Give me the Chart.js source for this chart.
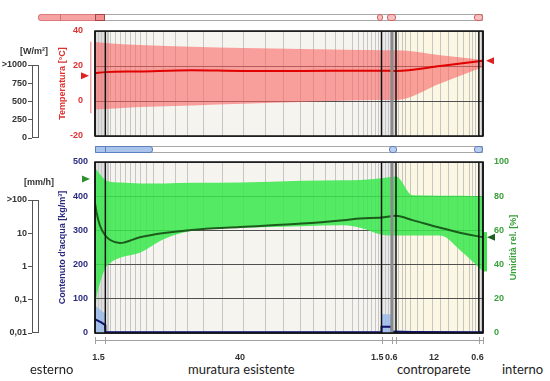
<!DOCTYPE html>
<html>
<head>
<meta charset="utf-8">
<script src="https://cdn.jsdelivr.net/npm/chart.js@4.4.0/dist/chart.umd.min.js"></script>
<style>
body{margin:0;background:#fff;}
#wrap{position:relative;width:550px;height:381px;overflow:hidden;font-family:"Liberation Sans",Arial,sans-serif;}
canvas{position:absolute;}
.bar{position:absolute;height:5px;border:1px solid #a8a8a8;background:#fff;box-sizing:content-box;}
.lbl{position:absolute;font-family:Lato,sans-serif;font-size:13px;color:#222;white-space:nowrap;}
.unit{position:absolute;font-size:9px;font-weight:bold;color:#333;white-space:nowrap;}
</style>
</head>
<body>
<div id="wrap">
  <!-- top (temperature) progress bar -->
  <div class="bar" style="left:38px;top:14px;width:443px;border-radius:3px 0 0 3px;"></div>
  <div class="bar" style="left:38px;top:14px;width:65px;background:#f6a3a3;border-color:#df7a7a;border-radius:3px 0 0 3px;"></div>
  <div class="bar" style="left:60px;top:14px;width:0;border-color:#d07070;border-width:1px 0 1px 1px;"></div>
  <div class="bar" style="left:95px;top:14px;width:8px;background:#f09090;border-color:#a84444;"></div>
  <div class="bar" style="left:377px;top:14px;width:4px;background:#f8c0c0;border-color:#d06060;border-radius:3px;"></div>
  <div class="bar" style="left:387px;top:14px;width:7px;background:#f8c0c0;border-color:#d06060;border-radius:3px;"></div>
  <div class="bar" style="left:474px;top:14px;width:7px;background:#f8c0c0;border-color:#d06060;border-radius:3px;"></div>
  <!-- bottom (moisture) progress bar -->
  <div class="bar" style="left:95px;top:146px;width:386px;"></div>
  <div class="bar" style="left:95px;top:146px;width:56px;background:#a9c3ea;border-color:#5c7fc0;border-radius:0 3px 3px 0;"></div>
  <div class="bar" style="left:105px;top:146px;width:0;border-color:#5c7fc0;border-width:1px 0 1px 1px;"></div>
  <div class="bar" style="left:389px;top:146px;width:6px;background:#b8cdf0;border-color:#5c7fc0;border-radius:3px;"></div>
  <div class="bar" style="left:474px;top:146px;width:7px;background:#b8cdf0;border-color:#5c7fc0;border-radius:3px;"></div>

  <canvas id="cTemp" width="550" height="116" style="left:0;top:25px;"></canvas>
  <canvas id="cMoist" width="550" height="205" style="left:0;top:155px;"></canvas>
  <canvas id="cRad" width="45" height="95" style="left:0;top:55px;"></canvas>
  <canvas id="cRain" width="45" height="155" style="left:0;top:190px;"></canvas>

  <div class="unit" style="left:20px;top:46px;">[W/m²]</div>
  <div class="unit" style="left:24px;top:177px;">[mm/h]</div>

  <div class="lbl" style="left:30px;top:361px;">esterno</div>
  <div class="lbl" style="left:188px;top:361px;">muratura esistente</div>
  <div class="lbl" style="left:397px;top:361px;">controparete</div>
  <div class="lbl" style="left:502px;top:361px;">interno</div>
</div>
<script>
// layer build-up (cm from outside)
const layerEdges = [0, 1.5, 41.5, 43, 43.6, 55.6, 56.2];
const thicknessLabels = ['1.5', '40', '1.5', '0.6', '12', '0.6'];
const labelPos = [0.5, 21.0, 40.9, 42.9, 49.1, 55.4];
const gridCm = [0.4, 0.9, 1.67, 1.88, 2.17, 2.9, 3.62, 4.35, 5.07, 5.8, 6.52, 7.39, 8.41, 9.86, 11.6,
  13.3, 15.65, 18.4, 21.45, 24.6, 27.2, 29.7, 31.6, 33.3, 34.8, 35.9, 37.2, 38.1, 38.8, 39.4, 40.0,
  40.6, 41.0, 42.0, 42.4, 43.9, 44.5, 44.9, 45.65, 46.7, 47.5, 48.8, 50.0, 51.2, 52.5, 53.3, 54.1,
  54.6, 55.1, 55.9];

// temperature [°C]
const tempX    = [0, 1.5, 6.5, 14, 21.5, 30, 38.5, 41.5, 43.6, 50, 56.2];
const tempMean = [16.0, 16.5, 16.9, 17.6, 17.2, 17.2, 17.3, 17.3, 17.2, 20.0, 23.0];
const tempMax  = [33.7, 33.2, 32.0, 31.0, 30.3, 29.7, 29.1, 29.0, 29.0, 26.2, 23.5];
const tempMin  = [-4.9, -4.5, -3.4, -2.5, -1.5, -0.5, 0.4, 0.6, 0.6, 10.0, 19.5];
const tempBC = [14.5, 23.0];
const tempExtRange = [-7, 34];

// relative humidity [%]
const humX    = [0, 0.2, 0.7, 1.5, 2.2, 3.6, 6.5, 10, 14, 21, 30, 36, 38.4, 41.5, 43.6, 46, 50, 53, 56.2];
const humMean = [76, 71, 63, 57, 54.4, 52.6, 56, 58.5, 60.3, 62, 64, 66, 67, 67.5, 68.5, 66, 61.5, 58.5, 56];
const humMax  = [97, 95.5, 93, 89.5, 88.5, 88, 87.5, 87.5, 87.8, 88, 89, 89.3, 89.5, 90.5, 91.5, 80.5, 80.3, 80.2, 80];
const humMin  = [12, 20, 29, 38, 41, 44, 47, 55, 59.8, 61.5, 62.5, 63, 61.5, 57.5, 57, 57, 57, 48, 36];
const humBC = [90, 56];
const humIntRange = [36, 59];

// water content [kg/m³]
const waterX    = [0, 0.4, 0.9, 1.45, 1.5, 41.45, 41.5, 42.95, 43.0, 43.6, 46, 56.2];
const waterMean = [40, 36, 31, 24, 2, 2, 18, 18, 4, 4, 3, 2];
const waterMax  = [82, 74, 65, 58, 5, 5, 55, 55, 8, 8, 6, 4];

// side scales
const radTicks = [0, 250, 500, 750, 1000];
const radLabels = ['0', '250', '500', '750', '>1000'];
const radValue = [0];
const rainTicks = [0.01, 0.1, 1, 10, 100];
const rainLabels = ['0,01', '0,1', '1', '10', '>100'];
const rainValue = [0.01];

const pts = (xs, ys) => xs.map((x, i) => ({x: x, y: ys[i]}));
const layerColors = ['#dedede', '#f6f4ee', '#e9e9e9', '#d6d6d6', '#fbf7e2', '#e2e2e2'];
const boldFont = {family: '"Liberation Sans", Arial, sans-serif', size: 9, weight: 'bold'};

// fixed axis width, no extra vertical padding from tick labels
const fixWidth = w => s => { s.width = w; s.paddingTop = 5; s.paddingBottom = 5; };

const layerPlugin = {
    id: 'layers',
    beforeDraw(chart) {
        const {ctx, chartArea: a, scales: {x}} = chart;
        ctx.save();
        for (let i = 0; i < layerColors.length; i++) {
            const x0 = x.getPixelForValue(layerEdges[i]);
            const x1 = x.getPixelForValue(layerEdges[i + 1]);
            ctx.fillStyle = layerColors[i];
            ctx.fillRect(x0, a.top, x1 - x0, a.bottom - a.top);
        }
        ctx.strokeStyle = '#c6c6c6';
        ctx.lineWidth = 1;
        gridCm.forEach(v => {
            const px = Math.round(x.getPixelForValue(v)) + 0.5;
            ctx.beginPath(); ctx.moveTo(px, a.top); ctx.lineTo(px, a.bottom); ctx.stroke();
        });
        ctx.restore();
    },
    afterDatasetsDraw(chart) {
        const {ctx, chartArea: a, scales: {x}} = chart;
        ctx.save();
        layerEdges.forEach(v => {
            const px = x.getPixelForValue(v);
            if (v === 43) {
                ctx.strokeStyle = '#8a8a8a'; ctx.lineWidth = 3;
            } else {
                ctx.strokeStyle = '#111'; ctx.lineWidth = 1.5;
            }
            ctx.beginPath(); ctx.moveTo(px, a.top); ctx.lineTo(px, a.bottom); ctx.stroke();
        });
        ctx.strokeStyle = '#111';
        ctx.lineWidth = 1.5;
        ctx.strokeRect(a.left, a.top, a.right - a.left, a.bottom - a.top);
        ctx.restore();
    }
};

const arrow = (ctx, xTip, y, dir, color) => {
    ctx.fillStyle = color;
    ctx.beginPath();
    ctx.moveTo(xTip, y);
    ctx.lineTo(xTip - dir * 8, y - 3.5);
    ctx.lineTo(xTip - dir * 8, y + 3.5);
    ctx.closePath();
    ctx.fill();
};

const tempMarks = {
    id: 'tempMarks',
    afterDraw(chart) {
        const {ctx, chartArea: a, scales: {y}} = chart;
        ctx.save();
        ctx.fillStyle = '#f4a0a0';
        ctx.fillRect(a.left - 5, y.getPixelForValue(tempExtRange[1]), 1.5,
            y.getPixelForValue(tempExtRange[0]) - y.getPixelForValue(tempExtRange[1]));
        arrow(ctx, a.left - 6, y.getPixelForValue(tempBC[0]), 1, '#e02020');
        arrow(ctx, a.right + 3, y.getPixelForValue(tempBC[1]), -1, '#e02020');
        ctx.restore();
    }
};

const moistMarks = {
    id: 'moistMarks',
    afterDraw(chart) {
        const {ctx, chartArea: a, scales: {x, y1}} = chart;
        ctx.save();
        // dimension line under the plot
        ctx.strokeStyle = '#a0a0a0';
        ctx.lineWidth = 1;
        ctx.beginPath(); ctx.moveTo(a.left, a.bottom + 7.5); ctx.lineTo(a.right, a.bottom + 7.5); ctx.stroke();
        layerEdges.forEach(v => {
            const px = Math.round(x.getPixelForValue(v)) + 0.5;
            ctx.beginPath(); ctx.moveTo(px, a.bottom + 4); ctx.lineTo(px, a.bottom + 11); ctx.stroke();
        });
        ctx.fillStyle = '#44e050';
        ctx.fillRect(a.right + 1, y1.getPixelForValue(humIntRange[1]), 3,
            y1.getPixelForValue(humIntRange[0]) - y1.getPixelForValue(humIntRange[1]));
        arrow(ctx, a.left - 5, y1.getPixelForValue(humBC[0]), 1, '#2f8f2f');
        arrow(ctx, a.right + 4, y1.getPixelForValue(humBC[1]), -1, '#1d5e1d');
        // right axis title, reading bottom to top
        ctx.translate(514, (a.top + a.bottom) / 2);
        ctx.rotate(-Math.PI / 2);
        ctx.font = 'bold 9px "Liberation Sans", Arial, sans-serif';
        ctx.fillStyle = '#3aa03a';
        ctx.textAlign = 'center';
        ctx.textBaseline = 'middle';
        ctx.fillText('Umidità rel. [%]', 0, 0);
        ctx.restore();
    }
};

const boxPlugin = {
    id: 'box',
    afterDraw(chart) {
        const {ctx, chartArea: a} = chart;
        ctx.save();
        ctx.strokeStyle = '#555';
        ctx.lineWidth = 1;
        ctx.strokeRect(a.left + 0.5, a.top + 0.5, a.right - a.left - 1, a.bottom - a.top - 1);
        ctx.restore();
    }
};

const band = (xs, ys, color, fill, axis) => ({
    data: pts(xs, ys), yAxisID: axis, borderWidth: 0, borderColor: 'transparent',
    backgroundColor: color, fill: fill, pointRadius: 0, cubicInterpolationMode: 'monotone', order: 2
});

new Chart(document.getElementById('cTemp'), {
    type: 'line',
    data: {
        datasets: [
            {data: pts(tempX, tempMean), borderColor: '#e00000', borderWidth: 2, pointRadius: 0,
                fill: false, cubicInterpolationMode: 'monotone', order: 0},
            band(tempX, tempMax, 'rgba(250,100,100,0.6)', '+1', 'y'),
            band(tempX, tempMin, 'transparent', false, 'y')
        ]
    },
    options: {
        animation: false, responsive: false,
        layout: {padding: {top: 6, bottom: 5, right: 67, left: 0}},
        plugins: {legend: {display: false}, tooltip: {enabled: false}},
        scales: {
            x: {type: 'linear', min: 0, max: 56.2, display: false},
            y: {
                min: -20, max: 40,
                ticks: {stepSize: 20, color: '#e03030', font: boldFont, padding: 0},
                grid: {color: '#505050', drawTicks: true, tickLength: 12, tickColor: 'transparent'},
                border: {display: false},
                title: {display: true, text: 'Temperatura [°C]', color: '#e03030', font: boldFont,
                    padding: {top: 57, bottom: 0}},
                afterFit: fixWidth(95)
            }
        }
    },
    plugins: [layerPlugin, tempMarks]
});

new Chart(document.getElementById('cMoist'), {
    type: 'line',
    data: {
        datasets: [
            {data: pts(waterX, waterMean), yAxisID: 'y', borderColor: '#12126e', borderWidth: 2,
                pointRadius: 0, fill: false, tension: 0, order: 0},
            {data: pts(humX, humMean), yAxisID: 'y1', borderColor: '#1c5c1c', borderWidth: 2,
                pointRadius: 0, fill: false, cubicInterpolationMode: 'monotone', order: 0},
            band(humX, humMax, 'rgba(55,232,75,0.85)', '+1', 'y1'),
            band(humX, humMin, 'transparent', false, 'y1'),
            Object.assign(band(waterX, waterMax, 'rgba(150,185,235,0.8)', 'origin', 'y'),
                {cubicInterpolationMode: 'default', tension: 0, order: 1})
        ]
    },
    options: {
        animation: false, responsive: false,
        layout: {padding: {top: 7, bottom: 0, right: 0, left: 0}},
        plugins: {legend: {display: false}, tooltip: {enabled: false}},
        scales: {
            x: {
                type: 'linear', min: 0, max: 56.2,
                afterBuildTicks(s) { s.ticks = labelPos.map(v => ({value: v})); },
                ticks: {autoSkip: false, maxRotation: 0, color: '#333', font: boldFont, padding: 11,
                    callback: (v, i) => thicknessLabels[i]},
                grid: {display: false},
                border: {display: false},
                afterFit(s) { s.height = 27; s.paddingLeft = 0; s.paddingRight = 0; }
            },
            y: {
                position: 'left', min: 0, max: 500,
                ticks: {stepSize: 100, color: '#2a2a80', font: boldFont, padding: 0},
                grid: {color: '#505050', drawTicks: true, tickLength: 7, tickColor: 'transparent'},
                border: {display: false},
                title: {display: true, text: "Contenuto d'acqua [kg/m³]", color: '#2a2a80', font: boldFont,
                    padding: {top: 57, bottom: 0}},
                afterFit: fixWidth(95)
            },
            y1: {
                position: 'right', min: 0, max: 100,
                ticks: {stepSize: 20, color: '#3aa03a', font: boldFont, padding: 0},
                grid: {display: false, drawTicks: true, tickLength: 11},
                border: {display: false},
                afterFit: fixWidth(67)
            }
        }
    },
    plugins: [layerPlugin, moistMarks]
});

const sideScale = (id, values, yOpts) => new Chart(document.getElementById(id), {
    type: 'bar',
    data: {labels: [''], datasets: [{data: values, backgroundColor: '#777'}]},
    options: {
        animation: false, responsive: false,
        layout: {padding: {top: 10, bottom: 12, right: 6, left: 0}},
        plugins: {legend: {display: false}, tooltip: {enabled: false}},
        scales: {
            x: {display: false},
            y: Object.assign({
                grid: {drawOnChartArea: false, drawTicks: true, tickLength: 4, color: '#555'},
                border: {display: false},
                afterFit: fixWidth(32)
            }, yOpts)
        }
    },
    plugins: [boxPlugin]
});

sideScale('cRad', radValue, {
    min: 0, max: 1000,
    afterBuildTicks(s) { s.ticks = radTicks.map(v => ({value: v})); },
    ticks: {color: '#333', font: boldFont, padding: 1, callback: (v, i) => radLabels[i]}
});

sideScale('cRain', rainValue, {
    type: 'logarithmic', min: 0.01, max: 100,
    afterBuildTicks(s) { s.ticks = rainTicks.map(v => ({value: v})); },
    ticks: {color: '#333', font: boldFont, padding: 1, callback: (v, i) => rainLabels[i]}
});
</script>
</body>
</html>
